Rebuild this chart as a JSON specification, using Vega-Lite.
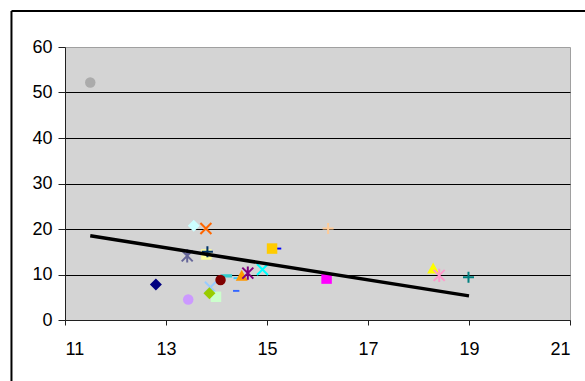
{
  "$schema": "https://vega.github.io/schema/vega-lite/v6.json",
  "width": 505,
  "height": 273,
  "autosize": {"type": "none"},
  "padding": {"left": 65, "top": 47, "right": 15, "bottom": 61},
  "background": "white",
  "config": {
    "view": {"fill": "#d4d4d4", "stroke": "#a0a0a0", "strokeWidth": 1},
    "axis": {"labelFont": "Liberation Sans", "labelFontSize": 18, "labelColor": "black", "domainColor": "#202020", "tickColor": "#202020", "title": null},
    "legend": {"disable": true}
  },
  "datasets": {
    "pts": [
      {"s": "S1", "x": 11.5, "y": 52.2},
      {"s": "S2", "x": 12.8, "y": 7.8},
      {"s": "S3", "x": 13.44, "y": 4.5},
      {"s": "S4", "x": 13.55, "y": 20.7},
      {"s": "S5", "x": 13.79, "y": 20.1},
      {"s": "S6", "x": 13.42, "y": 14.1},
      {"s": "S7", "x": 13.8, "y": 14.4},
      {"s": "S8", "x": 13.82, "y": 15.0},
      {"s": "S9", "x": 13.86, "y": 5.9},
      {"s": "S10", "x": 13.88, "y": 7.2},
      {"s": "S11", "x": 13.99, "y": 5.1},
      {"s": "S12", "x": 14.08, "y": 8.8},
      {"s": "S13", "x": 14.2, "y": 9.7},
      {"s": "S14", "x": 14.4, "y": 9.2},
      {"s": "S15", "x": 14.39, "y": 6.4},
      {"s": "S16", "x": 14.5, "y": 9.7},
      {"s": "S17", "x": 14.62, "y": 10.3},
      {"s": "S18", "x": 14.91, "y": 11.1},
      {"s": "S19", "x": 15.22, "y": 15.7},
      {"s": "S20", "x": 15.1, "y": 15.7},
      {"s": "S21", "x": 16.21, "y": 20.1},
      {"s": "S22", "x": 16.18, "y": 9.1},
      {"s": "S23", "x": 18.29, "y": 11.3},
      {"s": "S24", "x": 18.41, "y": 9.8},
      {"s": "S25", "x": 18.99, "y": 9.4}
    ],
    "trend": [
      {"tx": 11.5, "ty": 18.5},
      {"tx": 19.0, "ty": 5.3}
    ],
    "frame": [
      {"fx0": 9.94, "fx1": 24, "fy0": 67.9, "fy1": 67.9},
      {"fx0": 9.94, "fx1": 9.94, "fy0": 67.9, "fy1": -30}
    ]
  },
  "layer": [
    {
      "data": {"name": "frame"},
      "mark": {"type": "rule", "color": "black", "strokeWidth": 2, "clip": false},
      "encoding": {
        "x": {"field": "fx0", "type": "quantitative", "scale": {"domain": [11, 21], "nice": false, "zero": false},
          "axis": {"values": [11, 13, 15, 17, 19, 21], "grid": false, "tickSize": 5, "labelPadding": 15}},
        "x2": {"field": "fx1"},
        "y": {"field": "fy0", "type": "quantitative", "scale": {"domain": [0, 60], "nice": false, "zero": false},
          "axis": {"values": [0, 10, 20, 30, 40, 50, 60], "grid": true, "gridColor": "black", "gridWidth": 1,
            "gridOpacity": {"condition": {"test": "datum.value <= 0 || datum.value >= 60", "value": 0}, "value": 1},
            "tickSize": 7, "labelPadding": 6}},
        "y2": {"field": "fy1"}
      }
    },
    {
      "data": {"name": "pts"},
      "encoding": {
        "x": {"field": "x", "type": "quantitative"},
        "y": {"field": "y", "type": "quantitative"},
        "color": {"field": "s", "type": "nominal", "legend": null, "scale": {
          "domain": ["S1","S2","S3","S4","S5","S6","S7","S8","S9","S10","S11","S12","S13","S14","S15","S16","S17","S18","S19","S20","S21","S22","S23","S24","S25"],
          "range": ["#ababab","#000080","#cc99ff","#ccffff","#ff6600","#666699","#ffff99","#003366","#99cc00","#99ccff","#ccffcc","#800000","#33cccc","#33ccff","#3366ff","#ff9900","#800080","#00ffff","#0000ff","#ffcc00","#ffcc99","#ff00ff","#ffff00","#ff99cc","#008080"]}},
        "shape": {"field": "s", "type": "nominal", "legend": null, "scale": {
          "domain": ["S1","S2","S3","S4","S5","S6","S7","S8","S9","S10","S11","S12","S13","S14","S15","S16","S17","S18","S19","S20","S21","S22","S23","S24","S25"],
          "range": ["circle","M-1,0L0,-1L1,0L0,1Z","circle","M-1,0L0,-1L1,0L0,1Z","M-1,-1L1,1M-1,1L1,-1","M-1,-1L1,1M-1,1L1,-1M0,-1.2L0,1.2","square","M-1,0L1,0M0,-1L0,1","M-1,0L0,-1L1,0L0,1Z","M-1,-1L1,1M-1,1L1,-1","square","circle","M-1,-0.3L1,-0.3L1,0.3L-1,0.3Z","M-1,-0.3L1,-0.3L1,0.3L-1,0.3Z","M-1,-0.3L1,-0.3L1,0.3L-1,0.3Z","M-1,0.8L0,-1L1,0.8Z","M-1,-1L1,1M-1,1L1,-1M0,-1.2L0,1.2","M-1,-1L1,1M-1,1L1,-1","M-1,-0.3L1,-0.3L1,0.3L-1,0.3Z","square","M-1,0L1,0M0,-1L0,1","square","M-1,0.8L0,-1L1,0.8Z","M-1,-1L1,1M-1,1L1,-1M0,-1.2L0,1.2","M-1,0L1,0M0,-1L0,1"]}}
      },
      "layer": [
        {
          "transform": [{"filter": {"field": "s", "oneOf": ["S13"]}}],
          "mark": {"type": "point", "filled": true, "opacity": 1, "size": 121, "strokeWidth": 0}
        },
        {
          "transform": [{"filter": {"field": "s", "oneOf": ["S14", "S15", "S19"]}}],
          "mark": {"type": "point", "filled": true, "opacity": 1, "size": 40, "strokeWidth": 0}
        },
        {
          "transform": [{"filter": {"field": "s", "oneOf": ["S10"]}}],
          "mark": {"type": "point", "filled": false, "opacity": 1, "size": 121, "strokeWidth": 2}
        },
        {
          "transform": [{"filter": {"field": "s", "oneOf": ["S1","S3","S7","S11","S12","S20","S22"]}}],
          "mark": {"type": "point", "filled": true, "opacity": 1, "size": 110, "strokeWidth": 0}
        },
        {
          "transform": [{"filter": {"field": "s", "oneOf": ["S2","S4","S9","S16","S23"]}}],
          "mark": {"type": "point", "filled": true, "opacity": 1, "size": 144, "strokeWidth": 0}
        },
        {
          "transform": [{"filter": {"field": "s", "oneOf": ["S5","S6","S8","S17","S18","S21","S24","S25"]}}],
          "mark": {"type": "point", "filled": false, "opacity": 1, "size": 121, "strokeWidth": 2}
        }
      ]
    },
    {
      "data": {"name": "trend"},
      "mark": {"type": "line", "color": "black", "strokeWidth": 3.5},
      "encoding": {
        "x": {"field": "tx", "type": "quantitative"},
        "y": {"field": "ty", "type": "quantitative"}
      }
    }
  ]
}
